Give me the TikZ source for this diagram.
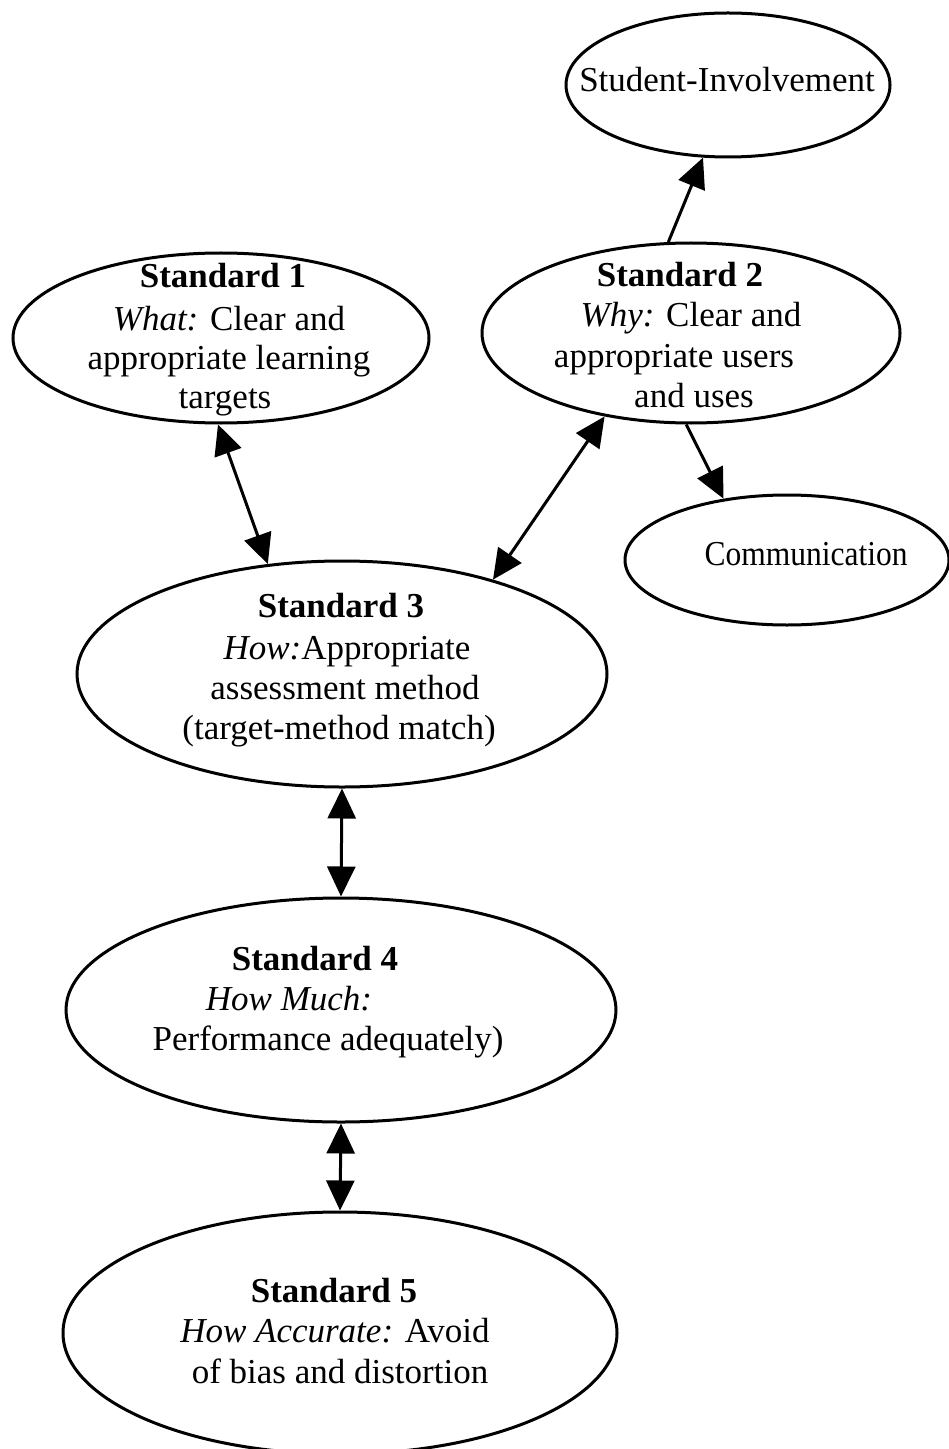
\documentclass[tikz,border=0pt]{standalone}
\usepackage{fontspec}
\usepackage{graphicx}
\setmainfont{Liberation Serif}
\usetikzlibrary{arrows.meta,shapes.geometric}
\begin{document}
\begin{tikzpicture}[x=0.5pt,y=-0.5pt,
  oval/.style={draw, ellipse, line width=1.5pt, inner sep=0pt},
  txt/.style={anchor=base, inner sep=0pt, font=\fontsize{17.5}{20.5}\selectfont},
  link/.style={line width=1.5pt, -{Triangle[length=15pt,width=14pt]}},
  dlink/.style={line width=1.5pt, {Triangle[length=15pt,width=14pt]}-{Triangle[length=15pt,width=14pt]}}]
\useasboundingbox (0,0) rectangle (948,1449);

% ellipses
\node[oval, minimum width=162pt, minimum height=72pt]  (si)   at (728,85)   {};
\node[oval, minimum width=208pt, minimum height=85pt]  (s1)   at (221,338)  {};
\node[oval, minimum width=209pt, minimum height=90pt]  (s2)   at (691,333)  {};
\node[oval, minimum width=162pt, minimum height=65pt]  (comm) at (787,560)  {};
\node[oval, minimum width=265pt, minimum height=113pt] (s3)   at (342,674)  {};
\node[oval, minimum width=275pt, minimum height=112pt] (s4)   at (341,1010) {};
\node[oval, minimum width=277pt, minimum height=121pt] (s5)   at (340,1333) {};

% texts
\node[txt] (sit) at (727,92) {Student-Involvement};

\node[txt] (s1a) at (223,288) {\textbf{Standard 1}};
\node[txt] (s1b) at (229,330) {\textit{What:} Clear and};
\node[txt] (s1c) at (229,370) {appropriate learning};
\node[txt] (s1d) at (225,408) {targets};

\node[txt] (s2a) at (680,287) {\textbf{Standard 2}};
\node[txt] (s2b) at (691,327) {\textit{Why:} Clear and};
\node[txt] (s2c) at (674,367) {appropriate users};
\node[txt] (s2d) at (694,407) {and uses};

\node[txt] (commt) at (806,565) {\scalebox{0.9}[1]{Communication}};

\node[txt] (s3a) at (341,617) {\textbf{Standard 3}};
\node[txt] (s3b) at (347,659) {\textit{How:}Appropriate};
\node[txt] (s3c) at (345,699) {assessment method};
\node[txt] (s3d) at (339,739) {(target-method match)};

\node[txt] (s4a) at (315,970)  {\textbf{Standard 4}};
\node[txt] (s4b) at (289,1010) {\textit{How Much:}};
\node[txt] (s4c) at (328,1050) {Performance adequately)};

\node[txt] (s5a) at (334,1302) {\textbf{Standard 5}};
\node[txt] (s5b) at (335,1342) {\textit{How Accurate:} Avoid};
\node[txt] (s5c) at (340,1383) {of bias and distortion};

% connectors
\draw[dlink] (s1.-92.6) -- (s3.124.75);
\draw[dlink] (s2.224.3) -- (s3.32.4);
\draw[link] (s2.104.3) -- (si.-109.9);
\draw[link] (s2.-93.8) -- (comm.136.8);
\draw[dlink] (s3.-90) -- (s4.90);
\draw[dlink] (s4.-90) -- (s5.90);
\end{tikzpicture}
\end{document}
